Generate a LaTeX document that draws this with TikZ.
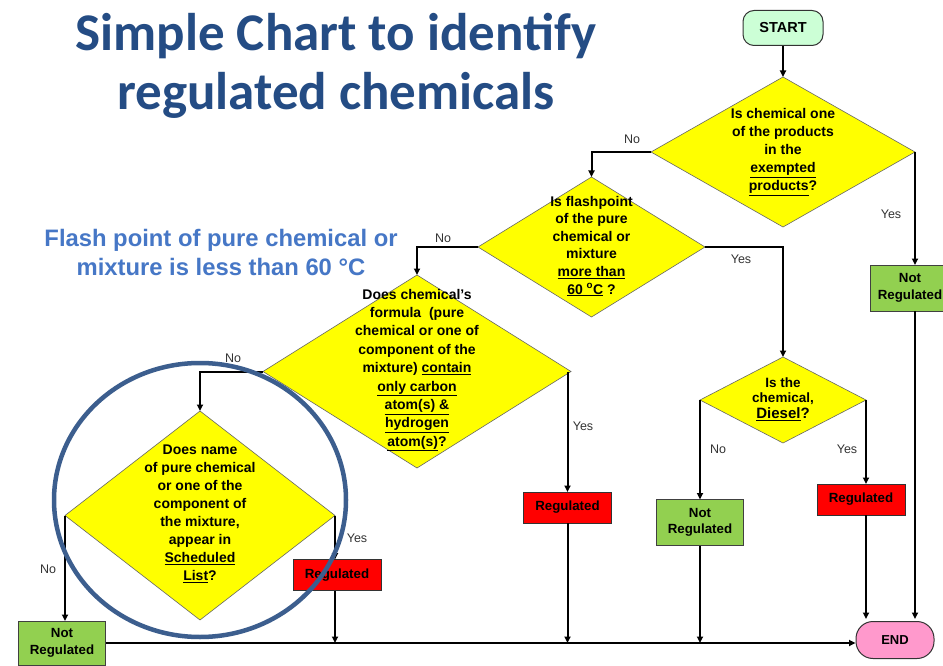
\documentclass[tikz,border=0pt]{standalone}
\usepackage{fontspec}
\setmainfont{Liberation Sans}
\newfontfamily\titlefont{Carlito}
\usetikzlibrary{shapes.geometric,arrows.meta,calc}
\definecolor{titleblue}{HTML}{244C84}
\definecolor{subblue}{HTML}{4677C6}
\definecolor{diayellow}{HTML}{FFFF00}
\definecolor{regred}{HTML}{FF0000}
\definecolor{nrgreen}{HTML}{92D050}
\definecolor{startgreen}{HTML}{CCFFD6}
\definecolor{endpink}{HTML}{FF99CC}
\definecolor{ringblue}{HTML}{3C5E8E}
\begin{document}
\begin{tikzpicture}[x=1pt,y=-1pt,
  dia/.style={diamond, draw=black!60, line width=0.6pt, fill=diayellow, inner sep=0pt, outer sep=0pt},
  diatext/.style={align=center, font=\bfseries\fontsize{14}{18}\selectfont, inner sep=0pt},
  regbox/.style={rectangle, draw=black!80, line width=1pt, fill=regred, minimum width=88pt, minimum height=31pt, inner sep=0pt, font=\bfseries\fontsize{13.3}{16}\selectfont, outer sep=0pt},
  nrbox/.style={rectangle, draw=black!75, line width=1pt, fill=nrgreen, minimum width=87pt, minimum height=46pt, inner sep=0pt, align=center, font=\bfseries\fontsize{13.3}{16.5}\selectfont, outer sep=0pt},
  yn/.style={font=\fontsize{12.5}{14}\selectfont, text=black!80, inner sep=0pt},
  arr/.style={-{Triangle[length=6.5pt,width=6pt]}, line width=2pt},
  subt/.style={anchor=base, inner sep=0pt, text=subblue, font=\bfseries\fontsize{23.8}{28}\selectfont},
  titl/.style={anchor=base, inner sep=0pt, text=titleblue, font=\titlefont\bfseries\fontsize{53}{58}\selectfont}
]
\useasboundingbox (0,0) rectangle (943,666);
\clip (0,0) rectangle (943,666);
\fill[white] (0,0) rectangle (943,666);

% title
\node[titl] (title1) at (336,51) {Simple Chart to identify};
\node[titl] (title2) at (336,110) {regulated chemicals};

% subtitle
\node[subt] (sub1) at (221,246) {Flash point of pure chemical or};
\node[subt] (sub2) at (221,275) {mixture is less than 60 °C};

% terminals
\node[rectangle, rounded corners=11pt, draw=black!80, line width=1pt, fill=startgreen, minimum width=80pt, minimum height=35pt, font=\bfseries\fontsize{14.5}{16}\selectfont] (start) at (783,28) {START};
\node[rectangle, rounded corners=17pt, draw=black!80, line width=1pt, fill=endpink, minimum width=78pt, minimum height=37pt, font=\bfseries\fontsize{13}{16}\selectfont] (end) at (895,640) {END};

% diamonds
\node[dia, minimum width=264pt, minimum height=150pt] (d1) at (783,152) {};
\node[diatext] (d1t) at (783,152) {Is chemical one\\of the products\\in the\\\underline{exempted}\\\underline{products}?};

\node[dia, minimum width=227pt, minimum height=140pt] (d2) at (591.5,247) {};
\node[diatext, font=\bfseries\fontsize{14}{17.6}\selectfont] (d2t) at (591.5,246) {Is flashpoint\\of the pure\\chemical or\\mixture\\\underline{more than}\\\underline{60 \textsuperscript{o}C} ?};

\node[dia, minimum width=308pt, minimum height=193pt] (d3) at (417,371.5) {};
\node[diatext, font=\bfseries\fontsize{14}{18.4}\selectfont] (d3t) at (417,370) {Does chemical’s\\formula~ (pure\\chemical or one of\\component of the\\mixture) \underline{contain}\\\underline{only carbon}\\\underline{atom(s) \&}\\\underline{hydrogen}\\\underline{atom(s)}?};

\node[dia, minimum width=270pt, minimum height=209pt] (d4) at (200,515.5) {};
\node[diatext] (d4t) at (200,514) {Does name\\of pure chemical\\or one of the\\component of\\the mixture,\\appear in\\\underline{Scheduled}\\\underline{List}?};

\node[dia, minimum width=166pt, minimum height=86pt] (dd) at (783,400) {};
\node[diatext, font=\bfseries\fontsize{13.5}{15.5}\selectfont] (ddt) at (783,399) {Is the\\chemical,\\{\fontsize{15}{16}\selectfont\underline{Diesel}?}};

% result boxes
\node[nrbox, minimum width=80pt] (nr1) at (910,288) {Not\\Regulated};
\node[nrbox] (nr2) at (700,522.5) {Not\\Regulated};
\node[nrbox, minimum height=44pt] (nr3) at (62,643) {Not\\Regulated};
\node[regbox] (r1) at (861,499.5) {Regulated};
\node[regbox] (r2) at (567.5,507.5) {Regulated};
\node[regbox] (r3) at (337,575) {Regulated};

% connectors
\draw[arr] (start.south) -- (start.south |- d1.north);
\draw[arr] (d1.east) -- (d1.east |- nr1.north);
\draw[arr] (d1.west) -| (d2.north);
\draw[arr] (nr1.south -| d1.east) -- ($(d1.east |- end.north)+(0,-2)$);
\draw[arr] (d2.east) -| (dd.north);
\draw[arr] (d2.west) -| (d3.north);
\draw[arr] (d3.west) -| (d4.north);
\draw[arr] (r2.north |- d3.east) -- (r2.north);
\draw[arr] (dd.west) -- (dd.west |- nr2.north);
\draw[arr] (dd.east) -- (dd.east |- r1.north);
\draw[arr] (dd.east |- r1.south) -- ($(dd.east |- end.north)+(0,-2)$);
\draw[arr] (d4.west) -- (d4.west |- nr3.north);
\draw[arr] (d4.east) -- (d4.east |- r3.north);
\draw[arr] (nr3.east) -- (nr3.east -| end.west);
\draw[arr] (d4.east |- r3.south) -- (d4.east |- nr3.east);
\draw[arr] (r2.south) -- (r2.south |- nr3.east);
\draw[arr] (nr2.south) -- (nr2.south |- nr3.east);

% yes / no labels
\node[yn] (l1) at (632,139) {No};
\node[yn] (l2) at (891,214) {Yes};
\node[yn] (l3) at (443,238) {No};
\node[yn] (l4) at (741,259.5) {Yes};
\node[yn] (l5) at (233,358) {No};
\node[yn] (l6) at (583,426) {Yes};
\node[yn] (l7) at (718,449) {No};
\node[yn] (l8) at (847,449) {Yes};
\node[yn] (l9) at (48,569) {No};
\node[yn] (l10) at (357,538) {Yes};

% highlight ring
\node[ellipse, draw=ringblue, line width=4.5pt, minimum width=292pt, minimum height=274pt, inner sep=0pt] (ring) at (200,500) {};
\end{tikzpicture}
\end{document}
